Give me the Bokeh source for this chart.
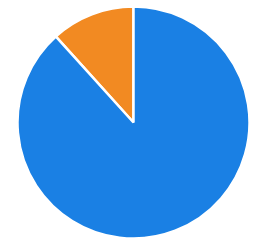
import numpy as np
from bokeh.plotting import figure
from bokeh.models import ColumnDataSource
from bokeh.embed import file_html
from bokeh.resources import INLINE

categories = ["Blue", "Orange"]
values = [88.3, 11.7]
colors = ["#1A80E4", "#F28A22"]

vals = np.array(values, dtype=float)
# slices go counter-clockwise starting from 12 o'clock, orange first
order = [1, 0]
fr = vals[order] / vals.sum() * 2 * np.pi
starts = np.pi / 2 + np.concatenate([[0], np.cumsum(fr)[:-1]])
ends = starts + fr

W, H = 253, 248
cx, cy = 133, H - 122

src = ColumnDataSource(dict(
    cat=[categories[i] for i in order],
    start=starts, end=ends,
    color=[colors[i] for i in order],
    x=[cx] * 2, y=[cy] * 2,
))

p = figure(width=W, height=H, x_range=(0, W), y_range=(0, H),
           output_backend="svg", toolbar_location=None, min_border=0)
p.axis.visible = False
p.grid.visible = False
p.outline_line_color = None
p.background_fill_color = "white"

p.wedge(x="x", y="y", radius=116, radius_units="screen",
        start_angle="start", end_angle="end", fill_color="color",
        line_color="white", line_width=2.5, source=src)

open("out.html", "w").write(file_html(p, INLINE))
